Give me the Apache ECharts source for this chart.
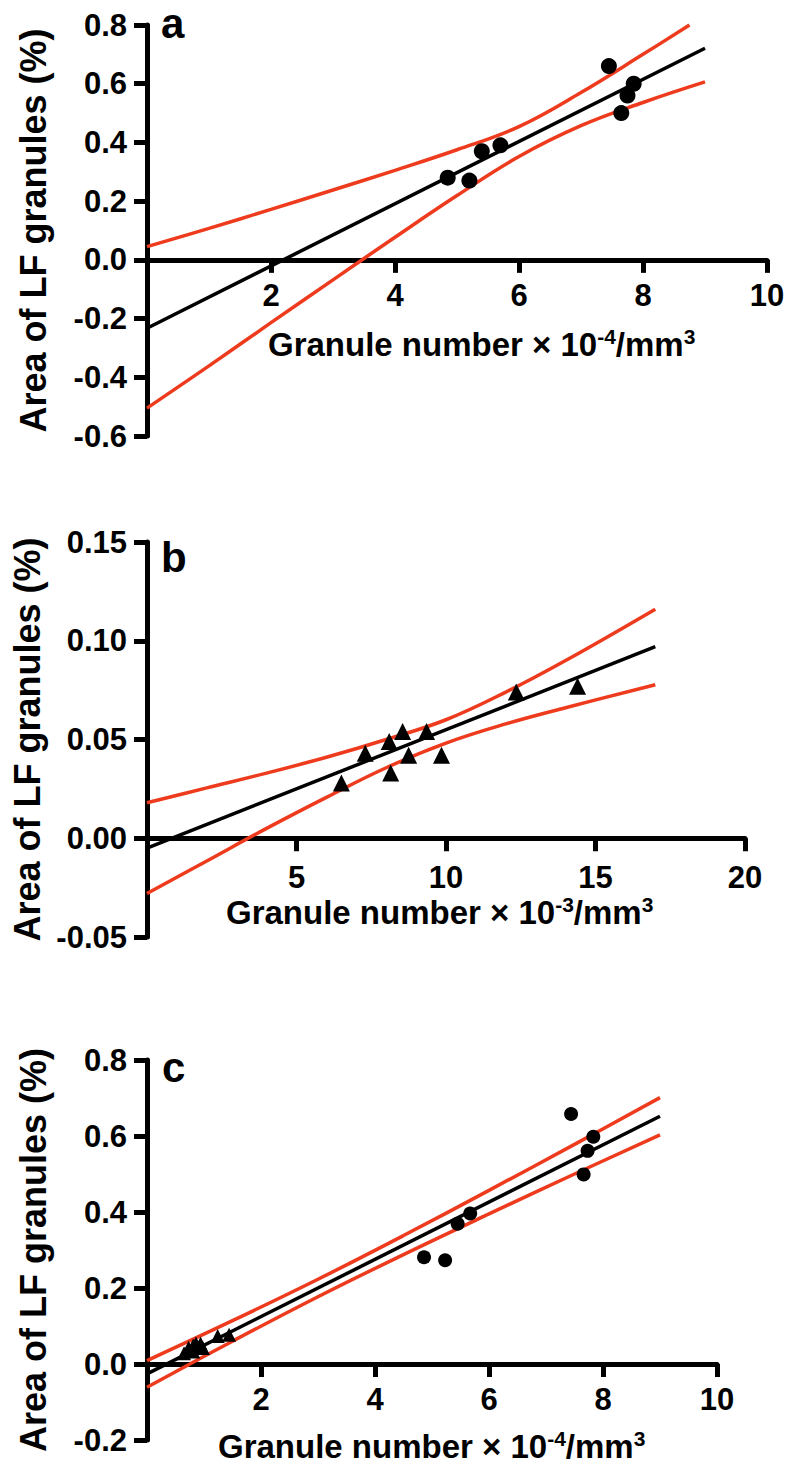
<!DOCTYPE html>
<html><head><meta charset="utf-8">
<script src="https://cdn.jsdelivr.net/npm/echarts@6/dist/echarts.min.js"></script>
<style>html,body{margin:0;padding:0;background:#fff}#c{width:790px;height:1469px}</style>
</head><body><div id="c"></div>
<script>
// ---------- data ----------
// Panel a : circles
const aCircleX = [4.85, 5.2, 5.4, 5.7, 7.45, 7.65, 7.75, 7.85];
const aCircleY = [0.28, 0.27, 0.37, 0.39, 0.66, 0.50, 0.56, 0.60];
const aFitX = [0, 9];
const aFitY = [-0.233, 0.721];
const aUpperX = [0, 1, 2, 3, 4, 5, 6, 7, 8, 8.75];
const aUpperY = [0.045, 0.107, 0.172, 0.238, 0.305, 0.375, 0.454, 0.57, 0.70, 0.80];
const aLowerX = [0, 1, 2, 3, 4, 5, 6, 7, 8, 9];
const aLowerY = [-0.505, -0.361, -0.214, -0.068, 0.077, 0.219, 0.352, 0.457, 0.536, 0.606];

// Panel b : triangles
const bTriX = [6.5, 7.3, 8.1, 8.55, 8.15, 8.75, 9.35, 9.85, 12.35, 14.4];
const bTriY = [0.028, 0.043, 0.049, 0.054, 0.033, 0.042, 0.054, 0.042, 0.074, 0.077];
const bFitX = [0, 17];
const bFitY = [-0.005, 0.097];
const bBandX = [0, 2, 4, 6, 8, 10, 12, 14, 17];
const bUpperY = [0.018, 0.0255, 0.033, 0.041, 0.050, 0.060, 0.074, 0.090, 0.116];
const bLowerY = [-0.028, -0.0115, 0.005, 0.0207, 0.0357, 0.0482, 0.0579, 0.0661, 0.0777];

// Panel c : circles + triangles
const cCircleX = [4.86, 5.23, 5.45, 5.67, 7.44, 7.66, 7.73, 7.83];
const cCircleY = [0.281, 0.273, 0.369, 0.396, 0.658, 0.499, 0.561, 0.598];
const cTriX = [0.65, 0.73, 0.81, 0.86, 0.81, 0.87, 0.94, 0.98, 1.24, 1.44];
const cTriY = [0.028, 0.043, 0.049, 0.054, 0.033, 0.042, 0.054, 0.042, 0.074, 0.077];
const cFitX = [0, 9];
const cFitY = [-0.026, 0.652];
const cBandX = [0, 1.5, 3, 4.5, 6, 7.5, 9];
const cUpperY = [0.009, 0.114, 0.223, 0.338, 0.457, 0.578, 0.701];
const cLowerY = [-0.061, 0.060, 0.177, 0.288, 0.395, 0.500, 0.603];

// axis settings
const aXTicks = {min: 0, max: 10, interval: 2};
const aYTicks = {min: -0.6, max: 0.8, interval: 0.2};
const bXTicks = {min: 0, max: 20, interval: 5};
const bYTicks = {min: -0.05, max: 0.15, interval: 0.05};
const cXTicks = {min: 0, max: 10, interval: 2};
const cYTicks = {min: -0.2, max: 0.8, interval: 0.2};
const yTitle = 'Area of LF granules (%)';
const panelLetters = ['a', 'b', 'c'];
const xExp = ['-4', '-3', '-4'];

// ---------- chart ----------
const NUM = '"Liberation Sans",Arial,sans-serif';
const BOLD = '"Liberation Sans",Arial,sans-serif';
const RED = '#ee3b1d';
const pair = (xs, ys) => xs.map((x, i) => [x, ys[i]]);

const grids = [
  {left: 147, top: 25, width: 620, height: 411},
  {left: 147, top: 542, width: 598, height: 395},
  {left: 147, top: 1060, width: 570, height: 380}
];

function xAxisCfg(idx, t, yt, margin) {
  // place the x axis on the y = 0 line
  const off = -grids[idx].height * (0 - yt.min) / (yt.max - yt.min);
  return {
    type: 'value', gridIndex: idx, min: t.min, max: t.max, interval: t.interval,
    position: 'bottom', offset: off,
    splitLine: {show: false},
    axisLine: {onZero: false, lineStyle: {color: '#000', width: 5}},
    axisTick: {length: 13, lineStyle: {color: '#000', width: 5}},
    axisLabel: {showMinLabel: false, margin, color: '#000', fontWeight: 'bold', fontSize: 31, fontFamily: NUM}
  };
}
function yAxisCfg(idx, t, dec) {
  return {
    type: 'value', gridIndex: idx, min: t.min, max: t.max, interval: t.interval,
    splitLine: {show: false},
    axisLine: {lineStyle: {color: '#000', width: 5}},
    axisTick: {length: 13, lineStyle: {color: '#000', width: 5}},
    axisLabel: {margin: 20, color: '#000', fontWeight: 'bold', fontSize: 31, fontFamily: NUM,
      formatter: v => v.toFixed(dec)},
    name: yTitle, nameLocation: 'middle', nameGap: 96,
    nameTextStyle: {color: '#000', fontWeight: 'bold', fontSize: 36, fontFamily: BOLD}
  };
}
function redLine(idx, data) {
  return {type: 'line', xAxisIndex: idx, yAxisIndex: idx, data, smooth: 0.4, showSymbol: false,
    symbol: 'none', lineStyle: {color: RED, width: 3.5}, z: 2, silent: true};
}
function blackLine(idx, data) {
  return {type: 'line', xAxisIndex: idx, yAxisIndex: idx, data, showSymbol: false,
    symbol: 'none', lineStyle: {color: '#000', width: 3.5}, z: 3, silent: true};
}
function marks(idx, data, symbol, size) {
  return {type: 'scatter', xAxisIndex: idx, yAxisIndex: idx, data, symbol, symbolSize: size,
    itemStyle: {color: '#000', opacity: 1}, z: 4, silent: true};
}
function xTitle(exp, left, top) {
  return {
    text: '{m|Granule number × 10}{s|' + exp + '}{m|/mm}{s|3}',
    left, top, padding: 0,
    textStyle: {rich: {
      m: {fontSize: 33, fontWeight: 'bold', fontFamily: NUM, color: '#000', lineHeight: 36},
      s: {fontSize: 21, fontWeight: 'bold', fontFamily: NUM, color: '#000', verticalAlign: 'top', lineHeight: 20}
    }}
  };
}
function letter(t, left, top) {
  return {text: t, left, top, padding: 0,
    textStyle: {fontSize: 42, fontWeight: 'bold', fontFamily: BOLD, color: '#000'}};
}

const chart = echarts.init(document.getElementById('c'), null, {renderer: 'svg', width: 790, height: 1469});
chart.setOption({
  backgroundColor: '#fff',
  animation: false,
  title: [
    xTitle(xExp[0], 268, 326),
    xTitle(xExp[1], 226, 894),
    xTitle(xExp[2], 218, 1428),
    letter(panelLetters[0], 161, 2),
    letter(panelLetters[1], 161, 536),
    letter(panelLetters[2], 162, 1046)
  ],
  grid: grids,
  xAxis: [xAxisCfg(0, aXTicks, aYTicks, 20), xAxisCfg(1, bXTicks, bYTicks, 24), xAxisCfg(2, cXTicks, cYTicks, 20)],
  yAxis: [yAxisCfg(0, aYTicks, 1), yAxisCfg(1, bYTicks, 2), yAxisCfg(2, cYTicks, 1)],
  series: [
    redLine(0, pair(aUpperX, aUpperY)),
    redLine(0, pair(aLowerX, aLowerY)),
    blackLine(0, pair(aFitX, aFitY)),
    marks(0, pair(aCircleX, aCircleY), 'circle', 16),

    redLine(1, pair(bBandX, bUpperY)),
    redLine(1, pair(bBandX, bLowerY)),
    blackLine(1, pair(bFitX, bFitY)),
    marks(1, pair(bTriX, bTriY), 'triangle', 17),

    redLine(2, pair(cBandX, cUpperY)),
    redLine(2, pair(cBandX, cLowerY)),
    blackLine(2, pair(cFitX, cFitY)),
    marks(2, pair(cTriX, cTriY), 'triangle', 14),
    marks(2, pair(cCircleX, cCircleY), 'circle', 14)
  ]
});
</script></body></html>
